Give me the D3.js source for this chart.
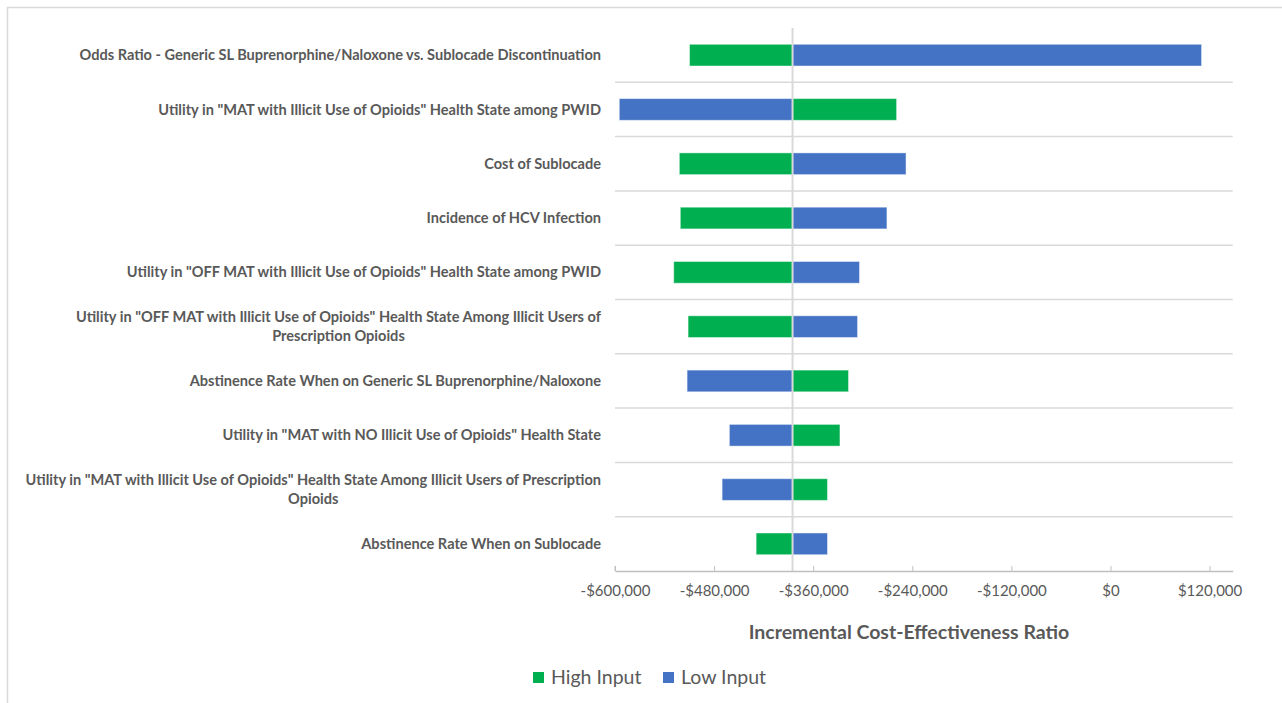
<!DOCTYPE html>
<html>
<head>
<meta charset="utf-8">
<script src="https://cdn.jsdelivr.net/npm/d3@7"></script>
<style>
  html, body { margin: 0; padding: 0; background: #fff; }
  svg { display: block; }
</style>
</head>
<body>
<svg id="chart" width="1282" height="703"></svg>
<script>
// ---- Data ----
const categories = [
  ["Odds Ratio - Generic SL Buprenorphine/Naloxone vs. Sublocade Discontinuation"],
  ["Utility in \"MAT with Illicit Use of Opioids\" Health State among PWID"],
  ["Cost of Sublocade"],
  ["Incidence of HCV Infection"],
  ["Utility in \"OFF MAT with Illicit Use of Opioids\" Health State among PWID"],
  ["Utility in \"OFF MAT with Illicit Use of Opioids\" Health State Among Illicit Users of", "Prescription Opioids"],
  ["Abstinence Rate When on Generic SL Buprenorphine/Naloxone"],
  ["Utility in \"MAT with NO Illicit Use of Opioids\" Health State"],
  ["Utility in \"MAT with Illicit Use of Opioids\" Health State Among Illicit Users of Prescription", "Opioids"],
  ["Abstinence Rate When on Sublocade"]
];
const highInput = [-509800, -259000, -522100, -520900, -528900, -511500, -317200, -327600, -342700, -429100];
const lowInput  = [ 110300, -594800, -247600, -270700, -303900, -306300, -512700, -461500, -470300, -342700];
const baseICER = -385000;
const tickValues = [-600000, -480000, -360000, -240000, -120000, 0, 120000];
const axisDomain = [-600000, 148000];
const seriesNames = ["High Input", "Low Input"];
const seriesColors = ["#00B050", "#4472C4"];
const axisTitle = "Incremental Cost-Effectiveness Ratio";

// ---- Layout ----
const svg = d3.select("#chart");
const plot = { left: 615, right: 1232.7, top: 28, bottom: 571 };
const textColor = "#595959";
const fontFamily = "Lato, 'Liberation Sans', Arial, sans-serif";

// chart border
svg.append("rect")
  .attr("x", 7.5).attr("y", 7.5).attr("width", 1400).attr("height", 1400)
  .attr("fill", "#fff").attr("stroke", "#d9d9d9").attr("stroke-width", 1.5);

const x = d3.scaleLinear().domain(axisDomain).range([plot.left, plot.right]);
const y = d3.scaleBand().domain(d3.range(categories.length)).range([plot.top, plot.bottom]).paddingInner(0).paddingOuter(0);

// horizontal separators between categories
svg.append("g").selectAll("line")
  .data(d3.range(1, categories.length))
  .join("line")
  .attr("x1", plot.left).attr("x2", plot.right)
  .attr("y1", d => y(d)).attr("y2", d => y(d))
  .attr("stroke", "#d9d9d9").attr("stroke-width", 1.5);

// bars
const barH = y.bandwidth() * 0.4;
const rows = categories.map((c, i) => ({ i, high: highInput[i], low: lowInput[i] }));
const barG = svg.append("g");
[["high", 0], ["low", 1]].forEach(([key, si]) => {
  barG.selectAll("rect." + key)
    .data(rows)
    .join("rect")
    .attr("class", key)
    .attr("x", d => x(Math.min(baseICER, d[key])))
    .attr("width", d => Math.abs(x(d[key]) - x(baseICER)))
    .attr("y", d => y(d.i) + (y.bandwidth() - barH) / 2)
    .attr("height", barH)
    .attr("fill", seriesColors[si])
    .attr("stroke", "rgba(255,255,255,0.45)")
    .attr("stroke-width", 1);
});

// baseline vertical line
svg.append("line")
  .attr("x1", x(baseICER)).attr("x2", x(baseICER))
  .attr("y1", plot.top).attr("y2", plot.bottom)
  .attr("stroke", "#d9d9d9").attr("stroke-width", 2);

// x axis
const fmt = v => (v < 0 ? "-$" : "$") + d3.format(",")(Math.abs(v));
const axisG = svg.append("g")
  .attr("transform", `translate(0,${plot.bottom})`)
  .call(d3.axisBottom(x).tickValues(tickValues).tickFormat(fmt).tickSizeInner(-5).tickSizeOuter(0).tickPadding(14));
axisG.select(".domain").attr("stroke", "#bfbfbf").attr("stroke-width", 1.5);
axisG.selectAll(".tick line").attr("stroke", "#bfbfbf").attr("stroke-width", 1);
axisG.selectAll(".tick text")
  .attr("fill", textColor).attr("font-size", 15).attr("font-family", fontFamily);
// left end tick
axisG.append("line").attr("x1", plot.left).attr("x2", plot.left).attr("y1", 0).attr("y2", -5)
  .attr("stroke", "#bfbfbf");

// category labels: sized so the longest single-line label spans the same width as in the reference
const labelG = svg.append("g");
const labelRight = 601;
const probe = labelG.append("text").attr("font-family", fontFamily).attr("font-size", 12).attr("font-weight", 700)
  .text(categories[0][0]);
const labelSize = 12 * 522 / probe.node().getComputedTextLength();
probe.remove();
categories.forEach((lines, i) => {
  const cy = y(i) + y.bandwidth() / 2;
  const lh = 19;
  const t = labelG.append("text")
    .attr("font-family", fontFamily).attr("font-size", labelSize).attr("font-weight", 700)
    .attr("fill", textColor).attr("text-anchor", "middle");
  const tspans = lines.map((ln, k) => t.append("tspan")
    .attr("y", cy + (k - (lines.length - 1) / 2) * lh)
    .attr("dy", "0.35em").text(ln));
  const w = d3.max(tspans, s => s.node().getComputedTextLength());
  const cx = labelRight - w / 2;
  tspans.forEach(s => s.attr("x", cx));
});

// axis title
svg.append("text")
  .attr("x", 909).attr("y", 632).attr("dy", "0.35em")
  .attr("text-anchor", "middle")
  .attr("font-family", fontFamily).attr("font-size", 19.5).attr("font-weight", 700)
  .attr("fill", textColor).text(axisTitle);

// legend
const legendG = svg.append("g");
const legendItems = [{ name: seriesNames[0], color: seriesColors[0], x: 533 }, { name: seriesNames[1], color: seriesColors[1], x: 663 }];
legendItems.forEach(d => {
  legendG.append("rect").attr("x", d.x).attr("y", 672).attr("width", 11).attr("height", 11).attr("fill", d.color);
  legendG.append("text").attr("x", d.x + 18).attr("y", 677.5).attr("dy", "0.35em")
    .attr("font-family", fontFamily).attr("font-size", 19.5).attr("fill", textColor).text(d.name);
});
</script>
</body>
</html>
